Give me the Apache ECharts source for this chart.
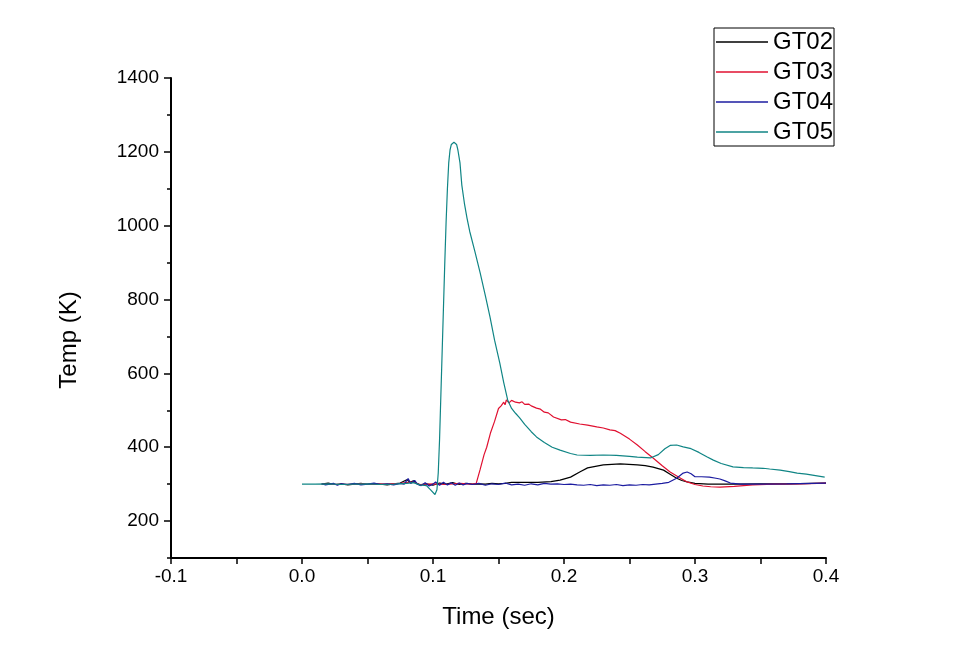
<!DOCTYPE html>
<html>
<head>
<meta charset="utf-8">
<script src="https://cdn.jsdelivr.net/npm/echarts@6/dist/echarts.min.js"></script>
<style>
html,body{margin:0;padding:0;background:#fff;}
#chart{width:960px;height:670px;}
</style>
</head>
<body>
<div id="chart"></div>
<script>
// ---- data (time in sec, temperature in K) ----
var seriesNames = ['GT02', 'GT03', 'GT04', 'GT05'];

var gt02 = [
  [0.015,300],[0.02,303],[0.025,299],[0.03,301],[0.035,298],[0.04,300],[0.045,302],[0.05,299],
  [0.055,301],[0.06,300],[0.065,298],[0.07,301],[0.075,303],[0.08,312],[0.0825,305],[0.085,309],
  [0.0875,302],[0.09,298],[0.095,301],[0.1,297],[0.105,303],[0.11,300],[0.115,304],[0.12,299],
  [0.125,302],[0.13,300],[0.135,301],[0.14,300],[0.145,302],[0.15,301],[0.155,302],[0.16,305],
  [0.17,305],[0.18,305],[0.19,307],[0.197,311],[0.205,319],[0.212,333],[0.218,344],[0.225,349],
  [0.23,352],[0.243,355],[0.256,352],[0.262,350],[0.268,346],[0.272,342],[0.276,338],[0.281,327],
  [0.286,316],[0.29,310],[0.294,306],[0.3,302],[0.31,300],[0.33,300],[0.35,301],[0.37,301],[0.4,303]
];

var gt03 = [
  [0.015,300],[0.03,299],[0.045,301],[0.06,300],[0.075,302],[0.085,306],[0.09,299],[0.1,301],
  [0.11,299],[0.12,302],[0.13,300],[0.133,302],[0.136,340],[0.139,380],[0.141,400],[0.144,440],
  [0.147,470],[0.15,505],[0.152,512],[0.154,522],[0.155,515],[0.156,528],[0.158,520],[0.16,527],
  [0.163,522],[0.166,520],[0.168,523],[0.17,516],[0.173,517],[0.175,512],[0.179,506],[0.182,503],
  [0.185,495],[0.188,493],[0.192,482],[0.198,474],[0.201,475],[0.205,468],[0.212,463],[0.218,460],
  [0.225,455],[0.23,452],[0.235,447],[0.239,445],[0.243,438],[0.25,422],[0.256,406],
  [0.262,388],[0.268,371],[0.275,350],[0.281,333],[0.288,318],[0.294,306],[0.3,299],[0.306,295],
  [0.312,293],[0.319,292],[0.33,294],[0.344,298],[0.36,300],[0.38,301],[0.4,303]
];

var gt04 = [
  [0.015,301],[0.018,298],[0.021,300],[0.024,302],[0.027,297],[0.03,301],[0.035,299],[0.04,302],
  [0.045,298],[0.05,300],[0.055,303],[0.06,299],[0.065,301],[0.07,298],[0.075,302],[0.078,300],
  [0.081,315],[0.083,302],[0.086,310],[0.088,300],[0.091,296],[0.094,304],[0.097,295],[0.1,300],
  [0.102,306],[0.105,297],[0.108,305],[0.111,298],[0.114,304],[0.117,297],[0.12,303],[0.123,298],
  [0.126,302],[0.13,299],[0.135,302],[0.14,297],[0.145,301],[0.15,299],[0.155,303],[0.16,298],
  [0.165,300],[0.17,297],[0.175,301],[0.18,298],[0.185,302],[0.19,300],[0.195,301],[0.2,299],
  [0.205,300],[0.21,298],[0.215,297],[0.22,299],[0.225,296],[0.23,298],[0.235,297],[0.24,299],
  [0.245,296],[0.25,298],[0.255,297],[0.26,299],[0.265,298],[0.27,300],[0.275,302],[0.28,305],
  [0.286,316],[0.291,330],[0.294,333],[0.297,328],[0.3,320],[0.305,320],[0.311,319],[0.316,316],
  [0.319,314],[0.323,309],[0.327,303],[0.335,300],[0.35,300],[0.37,301],[0.4,303]
];

var gt05 = [
  [0.0,300],[0.01,300],[0.02,301],[0.03,299],[0.04,300],[0.05,301],[0.06,299],[0.07,300],
  [0.08,302],[0.085,304],[0.09,298],[0.095,296],[0.098,285],[0.1015,272],[0.103,285],[0.104,330],
  [0.105,420],[0.106,540],[0.107,660],[0.108,780],[0.109,900],[0.11,1010],[0.111,1100],[0.112,1170],
  [0.113,1205],[0.114,1220],[0.116,1226],[0.118,1220],[0.119,1205],[0.1206,1170],[0.122,1110],
  [0.124,1060],[0.126,1020],[0.128,985],[0.132,930],[0.136,872],[0.14,810],[0.1435,753],[0.147,690],
  [0.151,628],[0.154,575],[0.157,528],[0.16,505],[0.163,492],[0.166,480],[0.17,462],[0.175,442],
  [0.179,428],[0.185,413],[0.191,400],[0.197,392],[0.205,383],[0.21,379],[0.22,378],[0.23,379],
  [0.24,378],[0.25,375],[0.256,373],[0.266,371],[0.272,380],[0.277,396],[0.281,405],[0.286,406],
  [0.291,401],[0.297,396],[0.303,386],[0.309,374],[0.314,365],[0.32,356],[0.329,347],[0.337,345],
  [0.344,344],[0.352,343],[0.357,341],[0.365,338],[0.372,334],[0.378,330],[0.385,327],[0.392,323],
  [0.399,319]
];

var seriesColors = ['#000000', '#e01030', '#1c1ca0', '#108585'];

var xMin = -0.1, xMax = 0.4, xStep = 0.1;
var yMin = 100, yMax = 1400;
var yMajorTicks = [200, 400, 600, 800, 1000, 1200, 1400];
var yMinorTicks = [100, 300, 500, 700, 900, 1100, 1300];

var chart = echarts.init(document.getElementById('chart'), null, {renderer: 'canvas'});
var FONT = 'Liberation Sans, Arial, sans-serif';
var allData = [gt02, gt03, gt04, gt05];

var option = {
  animation: false,
  backgroundColor: '#ffffff',
  grid: {left: 171, right: 134, top: 78, bottom: 112, containLabel: false},
  legend: {
    orient: 'vertical',
    left: 714, top: 28,
    padding: [2, 1, 2, 2],
    borderColor: '#000', borderWidth: 1,
    backgroundColor: '#fff',
    icon: 'rect',
    itemWidth: 52, itemHeight: 1.3, itemGap: 6,
    textStyle: {fontFamily: FONT, fontSize: 24, color: '#000', lineHeight: 22},
    data: seriesNames
  },
  xAxis: {
    type: 'value', min: xMin, max: xMax, interval: xStep,
    name: 'Time (sec)', nameLocation: 'middle', nameGap: 47,
    nameTextStyle: {fontFamily: FONT, fontSize: 24, color: '#000'},
    axisLine: {show: true, onZero: false, lineStyle: {color: '#000', width: 2}},
    axisTick: {show: true, inside: false, length: 6, lineStyle: {color: '#000', width: 1.5}},
    minorTick: {show: true, splitNumber: 2, length: 6, lineStyle: {color: '#000', width: 1.5}},
    axisLabel: {fontFamily: FONT, fontSize: 19, color: '#000', margin: 9,
      formatter: function (v) { return (Math.round(v * 10) / 10).toFixed(1); }},
    splitLine: {show: false}
  },
  yAxis: [{
    type: 'value', min: yMin, max: yMax,
    name: 'Temp (K)', nameLocation: 'middle', nameGap: 90,
    nameTextStyle: {fontFamily: FONT, fontSize: 24, color: '#000', padding: [0, 44, 0, 0]},
    axisLine: {show: true, onZero: false, lineStyle: {color: '#000', width: 2}},
    axisTick: {show: true, inside: false, length: 7, customValues: yMajorTicks, lineStyle: {color: '#000', width: 1.5}},
    axisLabel: {fontFamily: FONT, fontSize: 19, color: '#000', margin: 12, customValues: yMajorTicks,
      formatter: function (v) { return String(v); }},
    splitLine: {show: false}
  }, {
    type: 'value', min: yMin, max: yMax, position: 'left', offset: 0,
    axisLine: {show: false, onZero: false},
    axisTick: {show: true, inside: false, length: 4, customValues: yMinorTicks, lineStyle: {color: '#000', width: 1.5}},
    axisLabel: {show: false},
    splitLine: {show: false}
  }],
  series: seriesNames.map(function (n, i) {
    return {
      name: n, type: 'line', data: allData[i], symbol: 'none', showSymbol: false,
      xAxisIndex: 0, yAxisIndex: 0,
      lineStyle: {color: seriesColors[i], width: 1.2},
      itemStyle: {color: seriesColors[i]},
      z: 2 + i
    };
  })
};
chart.setOption(option);
</script>
</body>
</html>
